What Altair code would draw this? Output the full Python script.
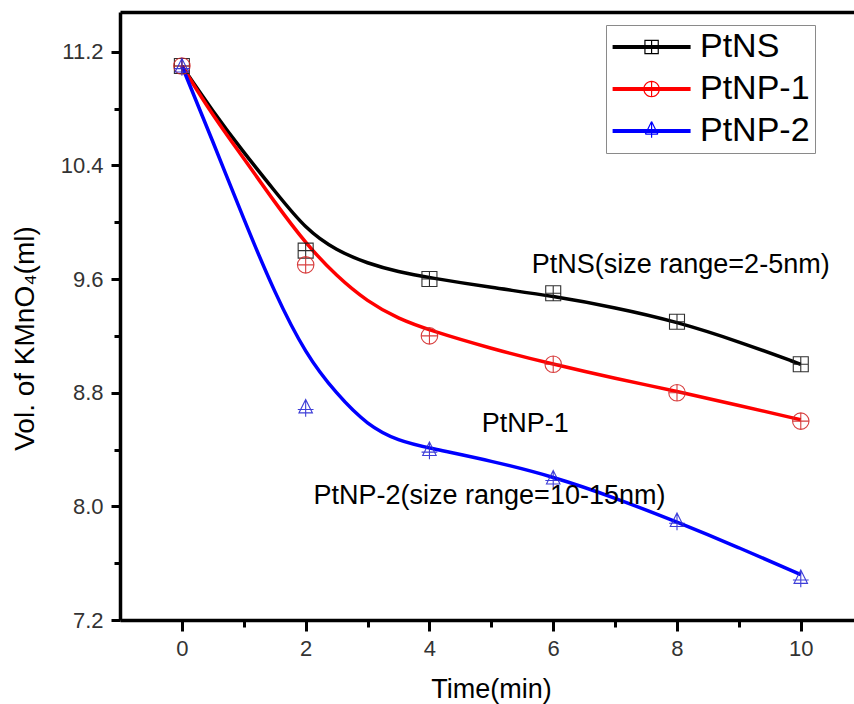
import altair as alt
import pandas as pd

# ---------------- data ----------------
series_names = ["PtNS", "PtNP-1", "PtNP-2"]
line_colors = ["#000000", "#ff0000", "#0000ff"]
marker_colors = ["#1a1a1a", "#d42a2a", "#2a2ad4"]

time_pts = [0, 2, 4, 6, 8, 10]
ptns_pts = [11.1, 9.8, 9.6, 9.5, 9.3, 9.0]
ptnp1_pts = [11.1, 9.7, 9.2, 9.0, 8.8, 8.6]
ptnp2_pts = [11.1, 8.7, 8.4, 8.2, 7.9, 7.5]

# fitted curves
time_fit = [0, 0.5, 1, 1.5, 2, 2.5, 3, 3.5, 4, 5, 6, 7, 8, 9, 10]
ptns_fit = [11.1, 10.78, 10.49, 10.22, 9.95, 9.80, 9.71, 9.65, 9.61, 9.54, 9.48, 9.40, 9.30, 9.16, 9.00]
ptnp1_fit = [11.1, 10.75, 10.45, 10.14, 9.85, 9.62, 9.44, 9.32, 9.24, 9.11, 9.00, 8.90, 8.81, 8.71, 8.61]
ptnp2_fit = [11.1, 10.57, 10.02, 9.50, 9.07, 8.79, 8.57, 8.46, 8.41, 8.32, 8.21, 8.06, 7.89, 7.71, 7.52]

ann_labels = ["PtNS(size range=2-5nm)", "PtNP-1", "PtNP-2(size range=10-15nm)"]
ann_time = [8.06, 5.55, 4.97]
ann_vol = [9.70, 8.58, 8.07]

x_major = [0, 2, 4, 6, 8, 10]
x_minor = [1, 3, 5, 7, 9]
y_major = [7.2, 8.0, 8.8, 9.6, 10.4, 11.2]
y_minor = [7.6, 8.4, 9.2, 10.0, 10.8]

# ---------------- tables ----------------
pts = pd.DataFrame({
    "series": [s for s in series_names for _ in time_pts],
    "time": time_pts * 3,
    "vol": ptns_pts + ptnp1_pts + ptnp2_pts,
})
fit = pd.DataFrame({
    "series": [s for s in series_names for _ in time_fit],
    "time": time_fit * 3,
    "vol": ptns_fit + ptnp1_fit + ptnp2_fit,
})
ann = pd.DataFrame({"label": ann_labels, "time": ann_time, "vol": ann_vol})

# ---------------- symbol paths ----------------
def f(v):
    v = round(v, 3)
    s = f"{v:.3f}".rstrip("0").rstrip(".")
    return "0" if s in ("-0", "", "0") else s

def poly(points, positive=True):
    area = 0.0
    for i in range(len(points)):
        x0, y0 = points[i]
        x1, y1 = points[(i + 1) % len(points)]
        area += x0 * y1 - x1 * y0
    if (area > 0) != positive:
        points = points[::-1]
    return "M" + "L".join(f"{f(x)},{f(y)}" for x, y in points) + "Z"

def seg(x0, y0, x1, y1, w):
    dx, dy = x1 - x0, y1 - y0
    n = (dx * dx + dy * dy) ** 0.5
    nx, ny = -dy / n * w, dx / n * w
    return poly([(x0 + nx, y0 + ny), (x1 + nx, y1 + ny), (x1 - nx, y1 - ny), (x0 - nx, y0 - ny)])

def circ(cx, cy, r, cw=True):
    s = 1 if cw else 0
    return (f"M{f(cx - r)},{f(cy)}A{f(r)},{f(r)},0,1,{s},{f(cx + r)},{f(cy)}"
            f"A{f(r)},{f(r)},0,1,{s},{f(cx - r)},{f(cy)}Z")

# plot markers (stroked)
marker_paths = [
    "M-1,-1L1,-1L1,1L-1,1Z M0,-1L0,1 M-1,0L1,0",
    "M-1.1,0A1.1,1.1,0,1,1,1.1,0A1.1,1.1,0,1,1,-1.1,0Z M0,-1.1L0,1.1 M-1.1,0L1.1,0",
    "M0,-1L0.9,0.8L-0.9,0.8Z M0,-1L0,1.3 M-1.05,0.35L1.05,0.35",
]

# legend symbols: line + marker, drawn as filled outlines
lw, t = 0.3, 0.085
x_left, x_right = -2.2, 8.94
cx = (x_left + x_right) / 2
line_rect = poly([(x_left, -lw), (x_right, -lw), (x_right, lw), (x_left, lw)])
sq = 0.95
leg_square = " ".join([
    line_rect,
    poly([(cx - sq - t, -sq - t), (cx + sq + t, -sq - t), (cx + sq + t, sq + t), (cx - sq - t, sq + t)]),
    poly([(cx - sq + t, -sq + t), (cx + sq - t, -sq + t), (cx + sq - t, sq - t), (cx - sq + t, sq - t)], positive=False),
    seg(cx, -sq, cx, sq, t),
])
R = 1.1
leg_circle = " ".join([
    line_rect,
    circ(cx, 0, R + t, True),
    circ(cx, 0, R - t, False),
    seg(cx, -R, cx, R, t),
])
dy = -0.35
ax, ay = cx, -1 + dy
bl, br = (cx - 0.9, 0.8 + dy), (cx + 0.9, 0.8 + dy)
leg_triangle = " ".join([
    line_rect,
    seg(ax, ay, br[0], br[1], t),
    seg(br[0], br[1], bl[0], bl[1], t),
    seg(bl[0], bl[1], ax, ay, t),
    seg(cx, ay, cx, 1.3 + dy, t),
])
legend_paths = [leg_square, leg_circle, leg_triangle]

# ---------------- chart ----------------
FONT = "Liberation Sans"
xscale = alt.Scale(domain=[-1, 10.86], nice=False, zero=False)
yscale = alt.Scale(domain=[7.2, 11.48], nice=False, zero=False)
cscale = alt.Scale(domain=series_names, range=line_colors)

x_axis = alt.Axis(
    orient="bottom", values=x_major, grid=False, format="d",
    tickSize=11, tickWidth=3, tickColor="black", domainWidth=3.5, domainColor="black",
    labelFont=FONT, labelFontSize=22, labelColor="#333333", labelPadding=7,
    title="Time(min)", titleFont=FONT, titleFontSize=27, titleFontWeight="normal",
    titleColor="black", titleX=371, titleY=77, titleBaseline="alphabetic",
)
x_axis_minor = alt.Axis(
    orient="bottom", values=x_minor, grid=False, domain=False, labels=False,
    tickSize=7, tickWidth=3, tickColor="black", title=None,
)
x_axis_top = alt.Axis(
    orient="top", ticks=False, labels=False, domainWidth=3.5, domainColor="black",
    grid=False, title=None,
)
y_axis = alt.Axis(
    orient="left", values=y_major, grid=False, format=".1f",
    tickSize=9, tickWidth=3, tickColor="black", domainWidth=3.5, domainColor="black",
    labelFont=FONT, labelFontSize=22, labelColor="#333333", labelPadding=8,
    title="Vol. of KMnO₄(ml)", titleFont=FONT, titleFontSize=28, titleFontWeight="normal",
    titleColor="black", titleX=-87, titleY=326, titleBaseline="alphabetic",
)
y_axis_minor = alt.Axis(
    orient="left", values=y_minor, grid=False, domain=False, labels=False,
    tickSize=6, tickWidth=3, tickColor="black", title=None,
)

line_layers = []
for i, (name, col) in enumerate(zip(series_names, line_colors)):
    line_layers.append(
        alt.Chart(fit).transform_filter(alt.datum.series == name)
        .mark_line(interpolate="basis", strokeWidth=3.5, color=col)
        .encode(
            x=alt.X("time:Q", scale=xscale, axis=x_axis if i == 0 else None),
            y=alt.Y("vol:Q", scale=yscale, axis=y_axis if i == 0 else None),
        )
    )

point_layers = []
for i, (name, path, col) in enumerate(zip(series_names, marker_paths, marker_colors)):
    point_layers.append(
        alt.Chart(pts).transform_filter(alt.datum.series == name)
        .mark_point(shape=path, size=225, filled=False, strokeWidth=1.1, color=col, opacity=0.9)
        .encode(
            x=alt.X("time:Q", scale=xscale, axis=x_axis_minor if i == 0 else None),
            y=alt.Y("vol:Q", scale=yscale, axis=y_axis_minor if i == 0 else None),
        )
    )

leg = alt.Legend(
    orient="none", legendX=486, legendY=13, labelFont=FONT, labelFontSize=34,
    labelColor="black", symbolSize=196, symbolStrokeWidth=0, labelOffset=55,
    strokeColor="#8a8a8a", fillColor="white", padding=5, rowPadding=8,
    symbolOpacity=1, labelLimit=0)

legend_layer = alt.Chart(pts).transform_filter("false").mark_point(filled=True, size=196).encode(
    x=alt.X("time:Q", scale=xscale, axis=None),
    y=alt.Y("vol:Q", scale=yscale, axis=None),
    color=alt.Color("series:N", scale=cscale, title=None, legend=leg),
    shape=alt.Shape("series:N", scale=alt.Scale(domain=series_names, range=legend_paths),
                    title=None, legend=leg),
)

texts = alt.Chart(ann).mark_text(font=FONT, fontSize=27, color="black", align="center",
                                 baseline="middle").encode(
    x=alt.X("time:Q", scale=xscale, axis=x_axis_top),
    y=alt.Y("vol:Q", scale=yscale, axis=None),
    text="label:N",
)

chart = alt.layer(*line_layers, *point_layers, legend_layer, texts).resolve_axis(
    x="independent", y="independent"
).properties(
    width=734, height=608,
    autosize=alt.AutoSizeParams(type="none"),
    padding={"left": 120, "top": 12, "right": 0, "bottom": 84},
).configure_view(stroke=None).configure(background="white")

chart.save("out.html", embed_options={"renderer": "svg", "actions": False})
